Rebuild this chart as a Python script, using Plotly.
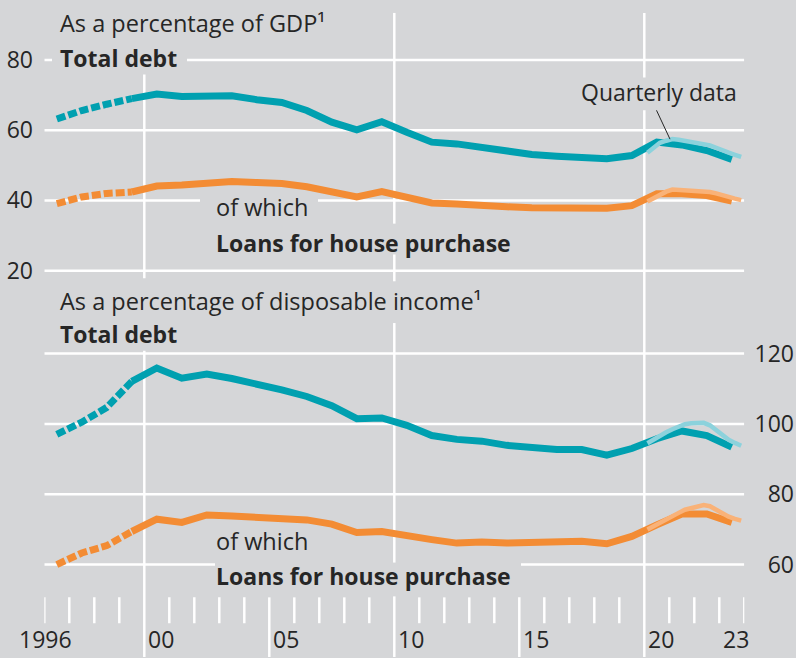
import plotly.graph_objects as go

# ---------------- data ----------------
years = list(range(1996, 2024))            # annual observations (plotted mid-year)
gdp_total = [63.2, 65.6, 67.4, 69.0, 70.3, 69.6, 69.5, 69.8, 68.7, 67.9, 65.6, 62.3, 60.1, 62.4,
             59.4, 56.6, 56.1, 55.2, 53.8, 53.1, 52.6, 52.2, 51.9, 52.8, 56.6, 55.8, 54.2, 51.7]
gdp_house = [39.1, 41.0, 42.0, 42.4, 44.1, 44.4, 45.0, 45.4, 45.1, 44.8, 43.9, 42.2, 41.0, 42.5,
             40.9, 39.3, 39.0, 38.8, 38.2, 37.9, 37.8, 37.8, 37.8, 38.5, 41.9, 41.9, 41.4, 39.8]
inc_total = [97.0, 100.5, 104.7, 112.1, 115.9, 113.0, 114.2, 112.9, 111.4, 109.7, 107.8, 105.2, 101.5, 101.7,
             99.6, 96.7, 95.6, 95.1, 93.9, 93.3, 92.7, 92.7, 91.1, 93.0, 95.8, 98.0, 96.7, 93.4]
inc_house = [60.0, 63.3, 65.4, 69.4, 72.9, 72.0, 74.1, 73.8, 73.4, 72.9, 72.7, 71.5, 69.1, 69.4,
             68.5, 67.1, 66.1, 66.4, 66.1, 66.1, 66.1, 66.6, 65.9, 68.0, 71.3, 74.4, 74.4, 72.0]
n_dashed = 4  # first annual points drawn dashed (1996-1999)

quarters = [(y, q) for y in range(2020, 2024) for q in range(1, 5)]
q_gdp_total = [53.6, 55.0, 56.4, 57.0, 57.5, 57.3, 57.0, 56.7, 56.4, 56.0, 55.7, 55.0, 54.2, 53.6, 53.0, 52.4]
q_gdp_house = [39.7, 40.7, 41.7, 42.5, 43.1, 43.0, 42.9, 42.8, 42.7, 42.6, 42.4, 42.0, 41.4, 41.0, 40.5, 40.1]
q_inc_total = [94.5, 95.6, 96.6, 97.6, 98.5, 99.3, 99.9, 100.2, 100.3, 100.3, 99.6, 98.3, 96.8, 95.5, 94.6, 93.8]
q_inc_house = [70.0, 71.0, 72.0, 73.0, 73.7, 74.7, 75.6, 76.1, 76.5, 76.9, 76.6, 75.6, 74.5, 73.6, 73.0, 72.5]

top_ticks = [20, 40, 60, 80]
bottom_ticks = [60, 80, 100, 120]
x_tick_years = [1996, 2000, 2005, 2010, 2015, 2020, 2023]
x_tick_labels = ["1996", "00", "05", "10", "15", "20", "23"]

# ---------------- styling ----------------
W, H = 796, 658
BG = "rgb(213,214,216)"
TEAL = "rgb(0,160,176)"
TEAL_L = "rgb(140,210,220)"
ORANGE = "rgb(243,140,52)"
ORANGE_L = "rgb(249,178,120)"
TXT = "#262626"
FONT = "Open Sans"
FS = 23
FS_REG = 23.5

def py(p):  # pixel row -> paper y
    return 1 - p / H

def pxx(p):
    return p / W

# x axis: 1996 -> 44.3 px, 25 px per year
X0_PX, PPY = 44.3, 25.0
def yr(px):
    return 1996 + (px - X0_PX) / PPY

# top panel: value 20 at 269.3 px, 3.533 px per unit
def top_px(v):
    return 269.3 - (v - 20) * 3.533
# bottom panel: value 60 at 565 px, 3.538 px per unit
def bot_px(v):
    return 565 - (v - 60) * 3.538

top_range = [16, 84]
bot_range = [56, 124]

ax = [y + 0.5 for y in years]
qx = [y + (q - 0.5) / 4 for (y, q) in quarters]

fig = go.Figure()

LW = 7
def add_series(vals, color, yaxis):
    fig.add_trace(go.Scatter(x=ax[:n_dashed], y=vals[:n_dashed], mode="lines", yaxis=yaxis,
                             line=dict(color=color, width=LW, dash="9px,3px"), hoverinfo="skip"))
    fig.add_trace(go.Scatter(x=ax[n_dashed - 1:], y=vals[n_dashed - 1:], mode="lines", yaxis=yaxis,
                             line=dict(color=color, width=LW), hoverinfo="skip"))

def add_quarterly(vals, color, yaxis):
    fig.add_trace(go.Scatter(x=qx, y=vals, mode="lines", yaxis=yaxis,
                             line=dict(color=color, width=4.5), hoverinfo="skip"))

add_series(gdp_house, ORANGE, "y")
add_series(gdp_total, TEAL, "y")
add_series(inc_house, ORANGE, "y2")
add_series(inc_total, TEAL, "y2")
add_quarterly(q_gdp_house, ORANGE_L, "y")
add_quarterly(q_gdp_total, TEAL_L, "y")
add_quarterly(q_inc_house, ORANGE_L, "y2")
add_quarterly(q_inc_total, TEAL_L, "y2")

shapes = []
GW = 2.5
def hline(v, ref, segs):
    for a, b in segs:
        shapes.append(dict(type="line", xref="x", yref=ref, x0=a, x1=b, y0=v, y1=v,
                           line=dict(color="white", width=GW), layer="below"))

XL, XR = 1996, 2024
# top panel gridlines (with gaps behind labels)
hline(80, "y", [(XL, yr(52)), (yr(187), XR)])
hline(60, "y", [(XL, XR)])
hline(40, "y", [(XL, yr(200)), (yr(318), XR)])
hline(20, "y", [(XL, XR)])
# bottom panel gridlines
hline(120, "y2", [(XL, XR)])
hline(100, "y2", [(XL, XR)])
hline(80, "y2", [(XL, XR)])
hline(60, "y2", [(XL, yr(215)), (yr(521), XR)])

def vline(x, segs):
    for a, b in segs:
        shapes.append(dict(type="line", xref="x", yref="paper", x0=x, x1=x, y0=py(a), y1=py(b),
                           line=dict(color="white", width=GW), layer="below"))

vline(2000, [(72, 277), (350, 658)])
vline(2010, [(10, 222), (253, 280), (322, 563), (597, 658)])
vline(2020, [(10, 75), (108, 658)])
for y in range(1996, 2025):
    if y in (2000, 2010, 2020):
        continue
    if y in (2005, 2015):
        vline(y, [(598, 658)])
    else:
        vline(y, [(598, 624)])

# pointer for "Quarterly data"
shapes.append(dict(type="line", xref="paper", yref="paper", x0=pxx(656.5), y0=py(108),
                   x1=pxx(670), y1=py(137), line=dict(color=TXT, width=1)))

annotations = []
def label(text, x_px, y_px, anchor="left", size=FS_REG):
    annotations.append(dict(text=text, xref="paper", yref="paper", x=pxx(x_px), y=py(y_px),
                            xanchor=anchor, yanchor="middle", showarrow=False,
                            font=dict(family=FONT, size=size, color=TXT)))

label("As a percentage of GDP¹", 58, 20)
label("<b>Total debt</b>", 58, 55, size=FS)
label("Quarterly data", 659, 90, anchor="center", size=FS)
label("of which", 214, 205)
label("<b>Loans for house purchase</b>", 214, 241, size=FS)
label("As a percentage of disposable income¹", 58, 300)
label("<b>Total debt</b>", 58, 333, size=FS)
label("of which", 214, 541)
label("<b>Loans for house purchase</b>", 214, 577, size=FS)

for yv, t in zip(x_tick_years, x_tick_labels):
    if t == "1996":
        xa, anc = yv + 0.06, "center"
    elif t == "23":
        xa, anc = yv + 0.66, "center"
    else:
        xa, anc = yv + 0.06, "left"
    annotations.append(dict(text=t, xref="x", yref="paper", x=xa, y=py(640),
                            xanchor=anc, yanchor="middle", showarrow=False,
                            font=dict(family=FONT, size=FS, color=TXT)))

fig.update_layout(
    width=W, height=H,
    margin=dict(l=0, r=0, t=0, b=0),
    paper_bgcolor=BG, plot_bgcolor=BG,
    showlegend=False,
    font=dict(family=FONT, size=FS, color=TXT),
    xaxis=dict(domain=[pxx(X0_PX), pxx(X0_PX + 28 * PPY)], range=[1996, 2024],
               showgrid=False, zeroline=False, showline=False, showticklabels=False, ticks="",
               anchor="y2"),
    yaxis=dict(domain=[py(top_px(top_range[0])), py(top_px(top_range[1]))], range=top_range,
               tickvals=top_ticks, showgrid=False, zeroline=False, showline=False, ticks="",
               anchor="free", position=pxx(33), side="left",
               tickfont=dict(family=FONT, size=FS, color=TXT)),
    yaxis2=dict(domain=[py(bot_px(bot_range[0])), py(bot_px(bot_range[1]))], range=bot_range,
                tickvals=bottom_ticks, showgrid=False, zeroline=False, showline=False, ticks="",
                anchor="free", position=pxx(794), side="left",
                tickfont=dict(family=FONT, size=FS, color=TXT)),
    shapes=shapes,
    annotations=annotations,
)

fig.write_html("out.html", config={"displayModeBar": False},
               post_script="document.body.style.margin='0px';document.body.style.padding='0px';")
